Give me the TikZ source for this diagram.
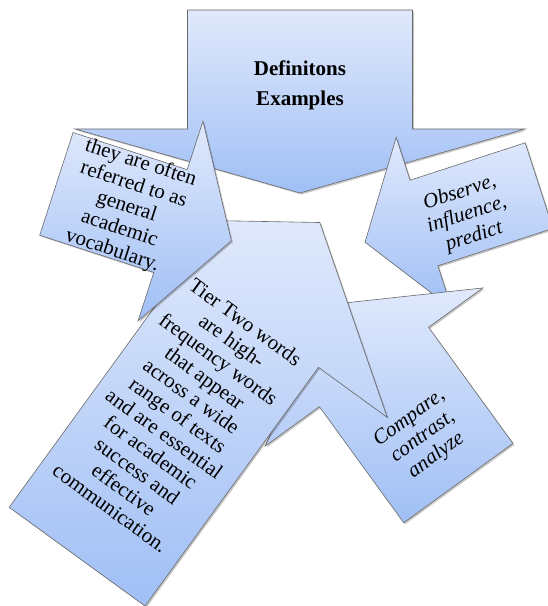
\documentclass[tikz,border=0pt]{standalone}
\usepackage{fontspec}
\setmainfont{Liberation Serif}
\definecolor{calloutTop}{RGB}{224,233,252}
\definecolor{calloutBot}{RGB}{160,191,245}
\definecolor{calloutLine}{RGB}{105,105,105}
% arrow callout: rotation, middle of the wing line, box half width, box length, wing half width, head depth
\newcommand{\callout}[6]{%
  \fill[black,opacity=0.22,shift={#2},shift={(1.5,-1.5)},rotate=#1]
    (-#3,#4) -- (#3,#4) -- (#3,0) -- (#5,0) -- (0,-#6) -- (-#5,0) -- (-#3,0) -- cycle;
  \draw[calloutbox,shift={#2},rotate=#1]
    (-#3,#4) -- (#3,#4) -- (#3,0) -- (#5,0) -- (0,-#6) -- (-#5,0) -- (-#3,0) -- cycle;
}
\begin{document}
\begin{tikzpicture}[x=1pt,y=1pt,
    calloutbox/.style={draw=calloutLine,line width=0.6pt,line join=miter,top color=calloutTop,bottom color=calloutBot},
    txt/.style={align=center,inner sep=0pt,font=\fontsize{21}{23}\selectfont},
    txtit/.style={txt,font=\fontsize{21}{23}\selectfont\itshape}]
\useasboundingbox (0,0) rectangle (548,606);
\clip (0,0) rectangle (548,606);
\callout{0}{(300,477)}{112.5}{119}{225}{64}
\callout{-72}{(424,383)}{45}{121}{90}{62}
\callout{-144}{(374,239)}{67.5}{143.5}{134.5}{77}
\callout{144}{(250.5,288)}{84}{295}{169}{118}
\callout{72}{(170.5,385)}{54}{120}{105}{64}
\node[txt,font=\fontsize{21}{30}\selectfont\bfseries] (defs) at (300,521) {Definitons\\Examples};
\node[txtit,rotate=18] (obs) at (467,391) {Observe,\\influence,\\predict};
\node[txtit,rotate=36] (cmp) at (423,169) {Compare,\\contrast,\\analyze};
\node[txt,rotate=-36] (tier) at (178,191) {Tier Two words\\are high-\\frequency words\\that appear\\across a wide\\range of texts\\and are essential\\for academic\\success and\\effective\\communication.};
\node[txt,rotate=-18] (acad) at (126.5,399) {they are often\\referred to as\\general\\academic\\vocabulary.};
\end{tikzpicture}
\end{document}
